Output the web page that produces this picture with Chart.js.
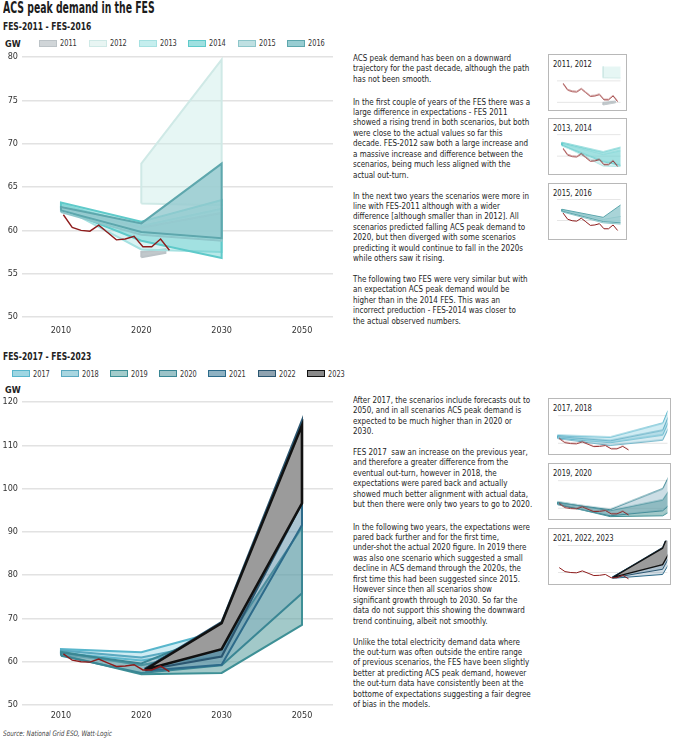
<!DOCTYPE html>
<html>
<head>
<meta charset="utf-8">
<title>ACS peak demand in the FES</title>
<script src="https://cdn.jsdelivr.net/npm/chart.js@4.4.0/dist/chart.umd.min.js"></script>
<style>
body { margin:0; width:680px; height:740px; background:#fff; position:relative; overflow:hidden;
  font-family:'Liberation Sans Narrow','DejaVu Sans Condensed',sans-serif; color:#222; }
.fit { transform-origin:0 0; white-space:nowrap; }
h1 { position:absolute; left:3px; top:0; margin:0; font-size:15px; line-height:17px; font-weight:bold; color:#1c1c1c; }
.sub { position:absolute; left:3px; font-size:10.5px; line-height:12px; font-weight:bold; color:#222; }
.gw { position:absolute; left:5px; font-size:9px; line-height:10px; font-weight:bold; color:#222; }
.leg { position:absolute; height:10px; }
.leg i { position:absolute; left:0; top:1.5px; width:18px; height:7px; box-sizing:border-box; border:1.5px solid; }
.leg span { position:absolute; left:21px; top:0; font-size:9.5px; line-height:10px; color:#333; }
.para { position:absolute; left:353px; font-size:9.5px; line-height:10.45px; color:#1e1e1e; }
.thumb { position:absolute; left:548px; box-sizing:border-box; border:1.5px solid #b8b8b8; background:#fff; }
.thumb b { position:absolute; left:4px; top:3px; font-size:9.5px; line-height:11px; font-weight:normal; color:#222; }
.cw { position:absolute; }
.src { position:absolute; left:3px; top:729px; font-size:7.5px; font-style:italic; color:#444; }
</style>
</head>
<body>
<h1 class="fit" data-w="152">ACS peak demand in the FES</h1>
<div class="sub fit" data-w="88" style="top:20px">FES-2011 - FES-2016</div>
<div class="gw" style="top:39px">GW</div>
<div id="legTop"></div>
<div class="cw" style="left:0;top:47px;width:340px;height:290px"><canvas id="topChart"></canvas></div>

<div class="sub fit" data-w="88" style="top:350px">FES-2017 - FES-2023</div>
<div class="gw" style="top:385px">GW</div>
<div id="legBottom"></div>
<div class="cw" style="left:0;top:392px;width:340px;height:333px"><canvas id="bottomChart"></canvas></div>
<div class="src fit" data-w="109">Source: National Grid ESO, Watt-Logic</div>

<div class="para fit" style="top:53px">ACS peak demand has been on a downward<br>trajectory for the past decade, although the path<br>has not been smooth.</div>
<div class="para fit" style="top:96.5px">In the first couple of years of the FES there was a<br>large difference in expectations - FES 2011<br>showed a rising trend in both scenarios, but both<br>were close to the actual values so far this<br>decade. FES-2012 saw both a large increase and<br>a massive increase and difference between the<br>scenarios, being much less aligned with the<br>actual out-turn.</div>
<div class="para fit" style="top:190.5px">In the next two years the scenarios were more in<br>line with FES-2011 although with a wider<br>difference [although smaller than in 2012]. All<br>scenarios predicted falling ACS peak demand to<br>2020, but then diverged with some scenarios<br>predicting it would continue to fall in the 2020s<br>while others saw it rising.</div>
<div class="para fit" style="top:274px">The following two FES were very similar but with<br>an expectation ACS peak demand would be<br>higher than in the 2014 FES. This was an<br>incorrect preduction - FES-2014 was closer to<br>the actual observed numbers.</div>

<div class="para fit" style="top:395px">After 2017, the scenarios include forecasts out to<br>2050, and in all scenarios ACS peak demand is<br>expected to be much higher than in 2020 or<br>2030.</div>
<div class="para fit" style="top:447px">FES 2017&nbsp; saw an increase on the previous year,<br>and therefore a greater difference from the<br>eventual out-turn, however in 2018, the<br>expectations were pared back and actually<br>showed much better alignment with actual data,<br>but then there were only two years to go to 2020.</div>
<div class="para fit" style="top:521.5px">In the following two years, the expectations were<br>pared back further and for the first time,<br>under-shot the actual 2020 figure. In 2019 there<br>was also one scenario which suggested a small<br>decline in ACS demand through the 2020s, the<br>first time this had been suggested since 2015.<br>However since then all scenarios show<br>significant growth through to 2030. So far the<br>data do not support this showing the downward<br>trend continuing, albeit not smoothly.</div>
<div class="para fit" style="top:636.5px">Unlike the total electricity demand data where<br>the out-turn was often outside the entire range<br>of previous scenarios, the FES have been slightly<br>better at predicting ACS peak demand, however<br>the out-turn data have consistently been at the<br>bottome of expectations suggesting a fair degree<br>of bias in the models.</div>

<div id="thumbs"></div>

<script>
// axis: 2010, 2020, 2030 then a jump to 2050 (2050 sits where 2040 would be)
var axisYears = [2010, 2020, 2030, 2050];
var tickLabels = ['2010', '2020', '2030', '2050'];

// actual out-turn ACS peak demand (GW), x
var outturnX = [2010.3, 2011.4, 2012.5, 2013.6, 2014.7, 2015.8, 2016.9, 2018.0, 2019.1, 2020.2, 2021.3, 2022.4, 2023.5];
var outturnGW = [61.8, 60.35, 60.0, 59.9, 60.6, 59.75, 58.9, 59.0, 59.3, 58.1, 58.1, 59.0, 57.7];

// FES scenario ranges, low and high (GW)
var fes2011Years = [2020, 2023],       fes2011Low = [56.9, 57.4],       fes2011High = [57.5, 57.8];
var fes2012Years = [2020, 2030],       fes2012Low = [63.1, 62.9],       fes2012High = [67.7, 79.7];
var fes2013Years = [2010, 2020, 2030], fes2013Low = [62.7, 57.8, 57.5], fes2013High = [63.0, 60.5, 62.5];
var fes2014Years = [2010, 2020, 2030], fes2014Low = [62.5, 58.8, 56.8], fes2014High = [63.2, 61.0, 63.5];
var fes2015Years = [2010, 2020, 2030], fes2015Low = [62.1, 59.5, 58.8], fes2015High = [62.6, 60.3, 62.0];
var fes2016Years = [2010, 2020, 2030], fes2016Low = [62.3, 59.8, 59.1], fes2016High = [62.7, 60.8, 67.7];

var fes2017Years = [2010, 2020, 2030, 2050], fes2017Low = [62.0, 60.3, 63.0, 105.0], fes2017High = [62.9, 62.2, 67.2, 113.0];
var fes2018Years = [2010, 2020, 2030, 2050], fes2018Low = [61.8, 59.3, 61.2, 100.0], fes2018High = [62.6, 61.0, 64.7, 110.0];
var fes2019Years = [2010, 2020, 2030, 2050], fes2019Low = [61.6, 57.1, 57.4, 68.5],  fes2019High = [62.3, 59.2, 63.0, 91.0];
var fes2020Years = [2010, 2020, 2030, 2050], fes2020Low = [61.4, 57.4, 59.2, 75.8],  fes2020High = [62.1, 59.6, 67.0, 105.0];
var fes2021Years = [2020.5, 2030, 2050],     fes2021Low = [57.9, 59.3, 91.6],        fes2021High = [58.5, 68.6, 115.2];
var fes2022Years = [2020.5, 2030, 2050],     fes2022Low = [58.1, 61.2, 96.6],        fes2022High = [58.4, 69.2, 115.8];
var fes2023Years = [2020.5, 2030, 2050],     fes2023Low = [58.2, 62.9, 96.6],        fes2023High = [58.2, 68.9, 114.6];

var topFes = ['2011', '2012', '2013', '2014', '2015', '2016'];
var bottomFes = ['2017', '2018', '2019', '2020', '2021', '2022', '2023'];

var bands = {
    '2011': [fes2011Years, fes2011Low, fes2011High], '2012': [fes2012Years, fes2012Low, fes2012High],
    '2013': [fes2013Years, fes2013Low, fes2013High], '2014': [fes2014Years, fes2014Low, fes2014High],
    '2015': [fes2015Years, fes2015Low, fes2015High], '2016': [fes2016Years, fes2016Low, fes2016High],
    '2017': [fes2017Years, fes2017Low, fes2017High], '2018': [fes2018Years, fes2018Low, fes2018High],
    '2019': [fes2019Years, fes2019Low, fes2019High], '2020': [fes2020Years, fes2020Low, fes2020High],
    '2021': [fes2021Years, fes2021Low, fes2021High], '2022': [fes2022Years, fes2022Low, fes2022High],
    '2023': [fes2023Years, fes2023Low, fes2023High]
};

// styles
var fillColour = {
    '2011': 'rgba(178,186,190,0.8)', '2012': 'rgba(200,235,230,0.45)', '2013': 'rgba(130,215,215,0.3)',
    '2014': 'rgba(95,205,205,0.45)', '2015': 'rgba(120,190,195,0.25)', '2016': 'rgba(150,203,207,0.82)',
    '2017': 'rgba(120,200,220,0.35)', '2018': 'rgba(120,190,210,0.3)', '2019': 'rgba(100,165,165,0.6)',
    '2020': 'rgba(110,160,180,0.35)', '2021': 'rgba(70,120,150,0.25)', '2022': 'rgba(60,100,130,0.25)',
    '2023': '#9b9b9b'
};
var legendFill = {
    '2011': '#d0d5d8', '2012': '#e8f5f3', '2013': '#c5eeee', '2014': '#9fe0e0', '2015': '#bfe0e2', '2016': '#98cdd2',
    '2017': '#9fd6e2', '2018': '#a9d6e0', '2019': '#a3cccb', '2020': '#9cc3c8', '2021': '#8fb2c3', '2022': '#8fa3b1',
    '2023': '#8a8a8a'
};
var lineColour = {
    '2011': '#bcc3c7', '2012': '#cfe9e6', '2013': '#a6e1e1', '2014': '#5fcaca', '2015': '#8ec6ca', '2016': '#5ea7ad',
    '2017': '#58b6cc', '2018': '#5aa9c0', '2019': '#3e9096', '2020': '#3a8694', '2021': '#2d6b8a', '2022': '#2b5670',
    '2023': '#111111'
};
var outturnColour = '#8e1b1b';
var legendTopX = [39, 89, 139, 188, 238, 287];
var legendBottomX = [12, 61, 110, 159, 208, 258, 307];

// thumbnails
var thumbTitles = ['2011, 2012', '2013, 2014', '2015, 2016', '2017, 2018', '2019, 2020', '2021, 2022, 2023'];
var thumbFes = [['2011', '2012'], ['2013', '2014'], ['2015', '2016'], ['2017', '2018'], ['2019', '2020'], ['2021', '2022', '2023']];
var thumbTop = [54, 118.3, 182.7, 398.3, 463.3, 527.7];
var thumbYMin = [55.7, 55.9, 55.9, 56.2, 56.2, 56.2];
var thumbYMax = [65.7, 65.95, 65.95, 71.65, 71.65, 71.65];
var thumbGrid = [[57.5, 62.5], [60, 65], [60, 65], [60, 70], [60, 70], [60, 70]];

Chart.defaults.font.family = "'Liberation Sans Narrow','DejaVu Sans Condensed',sans-serif";
Chart.defaults.color = '#333';

function pos(year) {
    return year <= 2030 ? year : 2030 + (year - 2030) / 2;
}

function bandSet(fes, width) {
    var b = bands[fes], pts = [];
    for (var i = 0; i < b[0].length; i++) pts.push({x: pos(b[0][i]), y: b[1][i]});
    for (var j = b[0].length - 1; j >= 0; j--) pts.push({x: pos(b[0][j]), y: b[2][j]});
    pts.push({x: pts[0].x, y: pts[0].y});
    return {
        data: pts, fill: 'shape', backgroundColor: fillColour[fes], borderColor: lineColour[fes],
        borderWidth: fes == '2023' ? width * 1.3 : width, pointRadius: 0, tension: 0,
        order: 2100 - parseInt(fes)
    };
}

function outturnSet(width) {
    var pts = outturnX.map(function (x, i) { return {x: x, y: outturnGW[i]}; });
    return { data: pts, fill: false, borderColor: outturnColour, borderWidth: width, pointRadius: 0, tension: 0, order: 0 };
}

function mainChart(id, list, yMin, yMax, yStep, labelPad) {
    var sets = [outturnSet(1.4)];
    list.forEach(function (f) { sets.push(bandSet(f, 2)); });
    new Chart(document.getElementById(id), {
        type: 'line',
        data: { datasets: sets },
        options: {
            responsive: true, maintainAspectRatio: false, animation: false,
            layout: { padding: { top: 10, right: 7, left: 0, bottom: 0 } },
            plugins: { legend: { display: false }, tooltip: { enabled: false } },
            scales: {
                x: {
                    type: 'linear', min: 2005.15, max: 2043.86,
                    grid: { display: false }, border: { display: false },
                    afterBuildTicks: function (s) { s.ticks = axisYears.map(function (y) { return {value: pos(y)}; }); },
                    afterFit: function (s) { s.height = 20; },
                    ticks: {
                        autoSkip: false, maxRotation: 0, padding: labelPad, font: { size: 9 },
                        callback: function (v) {
                            for (var i = 0; i < axisYears.length; i++) if (Math.abs(pos(axisYears[i]) - v) < 0.01) return tickLabels[i];
                            return '';
                        }
                    }
                },
                y: {
                    min: yMin, max: yMax,
                    grid: { color: '#e2e2e2', lineWidth: 1.5, drawTicks: false }, border: { display: false },
                    afterFit: function (s) { s.width = 22; },
                    ticks: { stepSize: yStep, padding: 4, font: { size: 9 } }
                }
            }
        }
    });
}

function legend(id, list, xs, top) {
    var el = document.getElementById(id);
    list.forEach(function (f, i) {
        var d = document.createElement('div');
        d.className = 'leg';
        d.style.left = xs[i] + 'px';
        d.style.top = top + 'px';
        d.innerHTML = '<i style="background:' + legendFill[f] + ';border-color:' + lineColour[f] + '"></i><span class="fit lab">' + f + '</span>';
        el.appendChild(d);
    });
}

function thumb(k) {
    var wide = k >= 3;
    var box = document.createElement('div');
    box.className = 'thumb';
    box.style.top = thumbTop[k] + 'px';
    box.style.width = (wide ? 123 : 79) + 'px';
    box.style.height = '57px';
    box.innerHTML = '<b class="fit tt">' + thumbTitles[k] + '</b>';
    document.getElementById('thumbs').appendChild(box);

    var wrap = document.createElement('div');
    wrap.className = 'cw';
    wrap.style.left = (wide ? 557 : 556) + 'px';
    wrap.style.top = (thumbTop[k] + 12) + 'px';
    wrap.style.width = (wide ? 111 : 65) + 'px';
    wrap.style.height = '43.6px';
    var c = document.createElement('canvas');
    wrap.appendChild(c);
    document.getElementById('thumbs').appendChild(wrap);

    var sets = [outturnSet(1)];
    thumbFes[k].forEach(function (f) { sets.push(bandSet(f, 1)); });
    var grid = thumbGrid[k];
    new Chart(c, {
        type: 'line',
        data: { datasets: sets },
        options: {
            responsive: true, maintainAspectRatio: false, animation: false,
            layout: { padding: 0 },
            plugins: { legend: { display: false }, tooltip: { enabled: false } },
            scales: {
                x: { type: 'linear', display: false, min: wide ? 2010 : 2008.7, max: wide ? 2030.9 : 2024.2 },
                y: {
                    min: thumbYMin[k], max: thumbYMax[k],
                    grid: { color: '#e6e6e6', lineWidth: 1, drawTicks: false }, border: { display: false },
                    afterBuildTicks: function (s) { s.ticks = grid.map(function (v) { return {value: v}; }); },
                    afterFit: function (s) { s.width = 0; },
                    ticks: { display: false }
                }
            }
        }
    });
}

// squeeze the text horizontally to the widths of the condensed face in the original
function squeeze(list, scale) {
    list.forEach(function (el) { el.style.transform = 'scaleX(' + scale + ')'; });
}
function fitText() {
    document.querySelectorAll('[data-w]').forEach(function (el) {
        squeeze([el], parseFloat(el.getAttribute('data-w')) / el.scrollWidth);
    });
    var paras = Array.prototype.slice.call(document.querySelectorAll('.para'));
    var widest = Math.max.apply(null, paras.map(function (p) { return p.scrollWidth; }));
    squeeze(paras, 179.5 / widest);
    var labs = Array.prototype.slice.call(document.querySelectorAll('.lab'));
    squeeze(labs, 17 / labs[0].scrollWidth);
    var tts = Array.prototype.slice.call(document.querySelectorAll('.tt'));
    squeeze(tts, 39 / tts[0].scrollWidth);
}

legend('legTop', topFes, legendTopX, 38);
legend('legBottom', bottomFes, legendBottomX, 368.5);
mainChart('topChart', topFes, 50, 80, 5, 0);
mainChart('bottomChart', bottomFes, 50, 120, 10, -3);
for (var k = 0; k < thumbTitles.length; k++) thumb(k);
fitText();
</script>
</body>
</html>
